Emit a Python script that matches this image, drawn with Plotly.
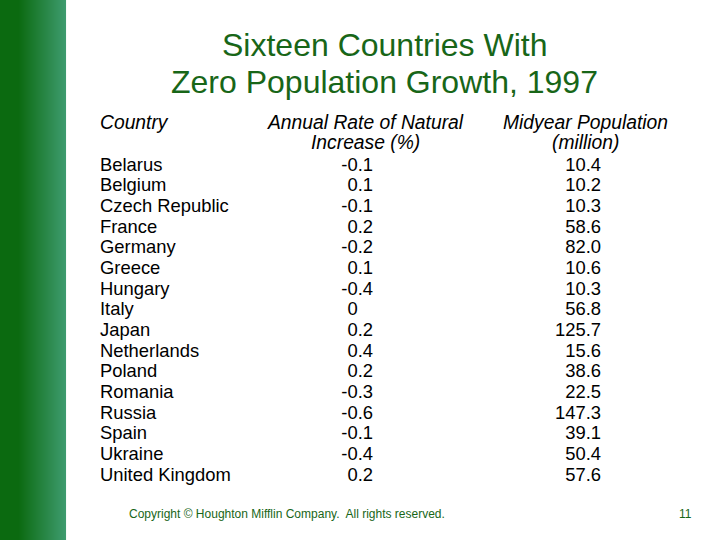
import plotly.graph_objects as go

# table data
countries = ["Belarus", "Belgium", "Czech Republic", "France", "Germany", "Greece",
             "Hungary", "Italy", "Japan", "Netherlands", "Poland", "Romania",
             "Russia", "Spain", "Ukraine", "United Kingdom"]
rate = ["-0.1", "0.1", "-0.1", "0.2", "-0.2", "0.1", "-0.4", "0",
        "0.2", "0.4", "0.2", "-0.3", "-0.6", "-0.1", "-0.4", "0.2"]
population = ["10.4", "10.2", "10.3", "58.6", "82.0", "10.6", "10.3", "56.8",
              "125.7", "15.6", "38.6", "22.5", "147.3", "39.1", "50.4", "57.6"]

title_lines = ["Sixteen Countries With", "Zero Population Growth, 1997"]
headers = [("Country", ""), ("Annual Rate of Natural", "Increase (%)"),
           ("Midyear Population", "(million)")]

FONT = "Liberation Sans, Arial, sans-serif"
GREEN = "#186618"

# row positions in pixel space (y axis runs 0..540 top to bottom)
row_top = 166
row_step = 20.67
ys = [row_top + i * row_step for i in range(len(countries))]

# rate column is decimal-aligned: pad whole numbers with the width of ".d"
rate_txt = [r if "." in r else r + "\u2008\u2007" for r in rate]

fig = go.Figure()

fig.add_trace(go.Scatter(x=[100] * len(countries), y=ys, text=countries, mode="text",
                         textposition="middle right",
                         textfont=dict(family=FONT, size=18.4, color="black")))
fig.add_trace(go.Scatter(x=[373] * len(rate), y=ys, text=rate_txt, mode="text",
                         textposition="middle left",
                         textfont=dict(family=FONT, size=18.4, color="black")))
fig.add_trace(go.Scatter(x=[601] * len(population), y=ys, text=population, mode="text",
                         textposition="middle left",
                         textfont=dict(family=FONT, size=18.4, color="black")))

annotations = []
# headers (italic)
hdr_pos = [(98, "left"), (365, "center"), (585, "center")]
for (l1, l2), (hx, anc) in zip(headers, hdr_pos):
    for txt, hy in ((l1, 122), (l2, 142.5)):
        if txt:
            annotations.append(dict(x=hx, y=hy, xref="x", yref="y", text="<i>%s</i>" % txt,
                                    showarrow=False, xanchor=anc, yanchor="middle",
                                    font=dict(family=FONT, size=19.3, color="black")))

# title
for txt, ty in zip(title_lines, (45, 82)):
    annotations.append(dict(x=384, y=ty, xref="x", yref="y", text=txt, showarrow=False,
                            xanchor="center", yanchor="middle",
                            font=dict(family=FONT, size=32, color=GREEN)))

# footer
annotations.append(dict(x=127, y=514, xref="x", yref="y",
                        text="Copyright \u00a9 Houghton Mifflin Company.  All rights reserved.",
                        showarrow=False, xanchor="left", yanchor="middle",
                        font=dict(family=FONT, size=12, color=GREEN)))
annotations.append(dict(x=694, y=514, xref="x", yref="y", text="11", showarrow=False,
                        xanchor="right", yanchor="middle",
                        font=dict(family=FONT, size=12, color=GREEN)))

# green gradient bar on the left
shapes = []
c0 = (11, 106, 16)
c1 = (62, 155, 110)
for i in range(66):
    t = max(0.0, (i - 18) / 47.0)
    t = min(t, 1.0)
    col = "rgb(%d,%d,%d)" % tuple(round(a + (b - a) * t) for a, b in zip(c0, c1))
    shapes.append(dict(type="rect", xref="x", yref="y", x0=i, x1=i + 1.05, y0=0, y1=540,
                       fillcolor=col, line=dict(width=0), layer="below"))

fig.update_layout(
    width=720, height=540,
    margin=dict(l=0, r=0, t=0, b=0),
    paper_bgcolor="white", plot_bgcolor="white",
    showlegend=False,
    xaxis=dict(range=[0, 720], visible=False, fixedrange=True),
    yaxis=dict(range=[540, 0], visible=False, fixedrange=True),
    annotations=annotations,
    shapes=shapes,
)

fig.write_html("out.html", config={"displayModeBar": False},
               post_script="document.body.style.margin='0';")
